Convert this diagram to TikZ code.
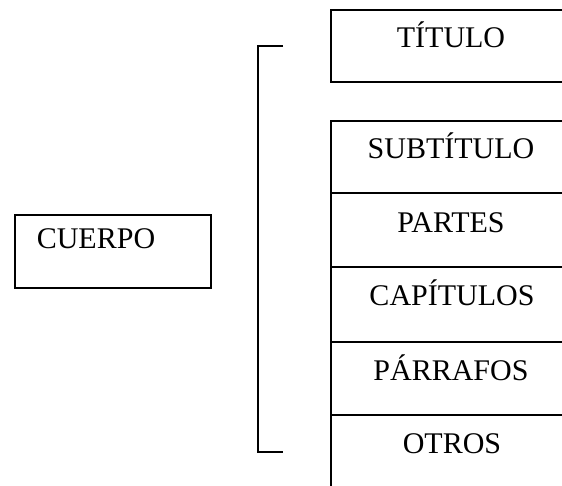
\documentclass[tikz,border=0pt]{standalone}
\usepackage{fontspec}
\setmainfont{Liberation Serif}
\begin{document}
\begin{tikzpicture}[x=1pt,y=-1pt,
  boxline/.style={line width=1.7pt,black},
  brace/.style={line width=2.4pt,black},
  lbl/.style={font=\fontsize{30}{33}\selectfont,inner sep=0pt,anchor=base}]
\useasboundingbox (0,0) rectangle (562,485);
% TITULO box (right side cut by the edge)
\draw[boxline] (580,10) -- (331,10) -- (331,82) -- (580,82);
\node[lbl] (titulo) at (451,47) {TÍTULO};
% stacked boxes
\draw[boxline] (580,121) -- (331,121) -- (331,490);
\draw[boxline] (331,193) -- (580,193);
\draw[boxline] (331,267) -- (580,267);
\draw[boxline] (331,342) -- (580,342);
\draw[boxline] (331,415) -- (580,415);
\node[lbl] (subtitulo) at (451,158) {SUBTÍTULO};
\node[lbl] (partes) at (451,232) {PARTES};
\node[lbl] (capitulos) at (452,305) {CAPÍTULOS};
\node[lbl] (parrafos) at (451,380) {PÁRRAFOS};
\node[lbl] (otros) at (452,453) {OTROS};
% CUERPO box
\draw[boxline] (15,215) rectangle (211,288);
\node[lbl] (cuerpo) at (96,248) {CUERPO};
% bracket
\coordinate (bt) at (283,46);
\coordinate (bb) at (283,452);
\draw[brace] (bt) -- (258,46) -- (258,452) -- (bb);
\end{tikzpicture}
\end{document}
